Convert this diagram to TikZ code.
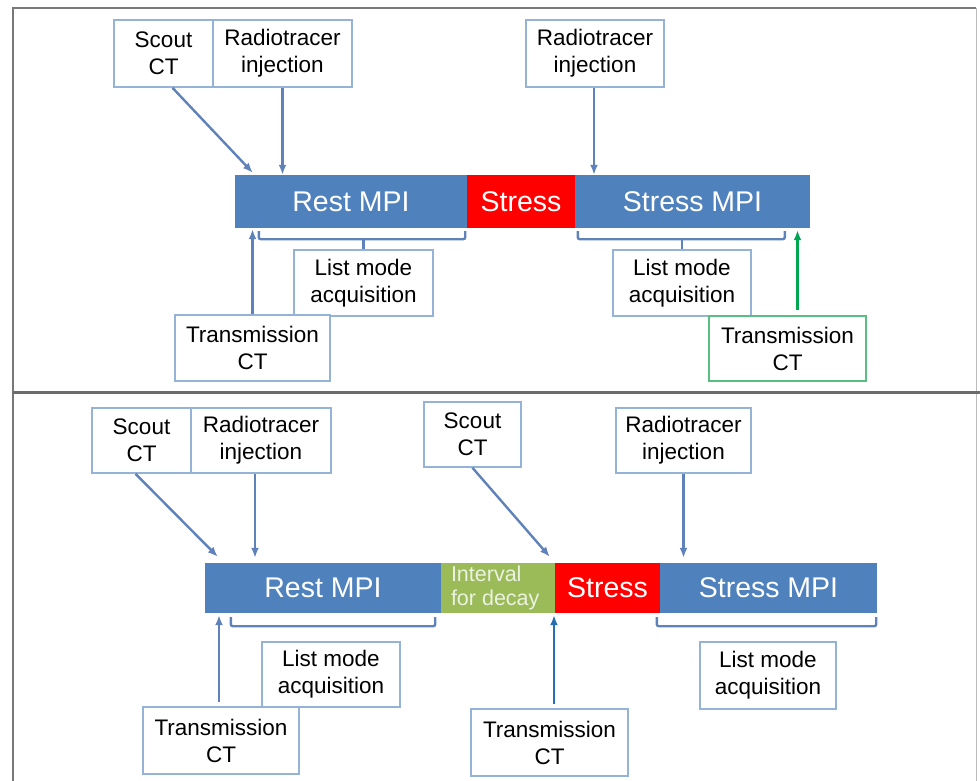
\documentclass[tikz,border=0pt]{standalone}
\usepackage{fontspec}
\setmainfont{Liberation Sans}
\usetikzlibrary{calc,arrows.meta}
\definecolor{barblue}{RGB}{79,129,189}
\definecolor{boxline}{RGB}{149,179,215}
\definecolor{arrblue}{RGB}{96,130,186}
\definecolor{darkarr}{RGB}{38,110,180}
\definecolor{decaygreen}{RGB}{155,187,89}
\definecolor{ctgreen}{RGB}{0,166,80}
\definecolor{ctbox}{RGB}{90,190,130}
\definecolor{framegray}{RGB}{120,120,120}
\tikzset{
  info/.style={draw=boxline, line width=1.6pt, fill=white, align=center, inner sep=0pt,
    font=\fontsize{22.5}{27}\selectfont},
  phase/.style={fill=#1, text=white, inner sep=0pt, font=\fontsize{28.5}{30}\selectfont},
  arr/.style={draw=arrblue, line width=2.4pt, -{Latex[length=10pt,width=8pt]}},
  brace/.style={draw=arrblue, line width=2.4pt, rounded corners=2pt}
}
\begin{document}
\begin{tikzpicture}[x=1pt,y=-1pt]
\useasboundingbox (0,0) rectangle (980,781);

% panel frames
\draw[framegray, line width=2.2pt] (13,782) -- (13,8) -- (976,8);
\draw[framegray!50, line width=1pt] (976,8) -- (976,782);
\draw[framegray!90!black, line width=3pt] (13,392) -- (980,392);

%% top panel
\node[phase=barblue, minimum width=232pt, minimum height=53pt] (restA) at (351,201.5) {Rest MPI};
\node[phase=red, minimum width=108pt, minimum height=53pt] (stressA) at (521,201.5) {Stress};
\node[phase=barblue, minimum width=235pt, minimum height=53pt] (smpiA) at (692.5,201.5) {Stress MPI};

\node[info, minimum width=99pt, minimum height=67pt] (scoutA) at (163.5,53.5) {Scout\\CT};
\node[info, minimum width=139pt, minimum height=67pt] (injA) at (282.5,53.5) {Radiotracer\\injection};
\node[info, minimum width=138pt, minimum height=67pt] (injB) at (595,53.5) {Radiotracer\\injection};

\node[info, minimum width=139pt, minimum height=66pt] (listA) at (363.5,283) {List mode\\acquisition};
\node[info, minimum width=138pt, minimum height=66pt] (listB) at (682,283) {List mode\\acquisition};
\node[info, minimum width=155pt, minimum height=66pt] (transA) at (252.5,348) {Transmission\\CT};
\node[info, draw=ctbox, minimum width=157pt, minimum height=65pt] (transB) at (787.5,348.5) {Transmission\\CT};

\draw[arr] ($(scoutA.south)+(9,0)$) -- ($(restA.north west)+(18,-2)$);
\draw[arr] (injA.south) -- (injA.south |- restA.north);
\draw[arr] ($(injB.south)+(-1,0)$) -- ($(injB.south |- smpiA.north)+(-1,0)$);
\draw[arr] (transA.north) -- ($(transA.north |- restA.south)+(0,1)$);
\draw[arr, draw=ctgreen] ($(transB.north)+(10,-5)$) -- ($(transB.north |- smpiA.south)+(10,2)$);

\draw[brace] ($(restA.south west)+(24,3)$) -- ++(0,8) -- ($(restA.south east)+(-2,11)$) -- ++(0,-8);
\draw[brace] (listA.north |- 0,239) -- (listA.north);
\draw[brace] ($(smpiA.south west)+(3,3)$) -- ++(0,8) -- ($(smpiA.south west)+(210,11)$) -- ++(0,-8);
\draw[brace] (listB.north |- 0,239) -- (listB.north);

%% bottom panel
\node[phase=barblue, minimum width=236pt, minimum height=50pt] (restC) at (323,588) {Rest MPI};
\node[fill=decaygreen, minimum width=114pt, minimum height=50pt] (decayC) at (498,588) {};
\node[anchor=west, align=left, inner sep=0pt, text={rgb,255:red,236;green,242;blue,226},
  font=\fontsize{21.5}{24}\selectfont] at ($(decayC.west)+(10,0)$) {Interval\\for decay};
\node[phase=red, minimum width=105pt, minimum height=50pt] (stressC) at (607.5,588) {Stress};
\node[phase=barblue, minimum width=217pt, minimum height=50pt] (smpiC) at (768.5,588) {Stress MPI};

\node[info, minimum width=99pt, minimum height=65pt] (scoutC) at (141.5,440.5) {Scout\\CT};
\node[info, minimum width=140pt, minimum height=65pt] (injC) at (261,440.5) {Radiotracer\\injection};
\node[info, minimum width=97pt, minimum height=65pt] (scoutD) at (472.5,434.5) {Scout\\CT};
\node[info, minimum width=135pt, minimum height=65pt] (injD) at (683.5,440.5) {Radiotracer\\injection};

\node[info, minimum width=138pt, minimum height=65pt] (listC) at (331,674.5) {List mode\\acquisition};
\node[info, minimum width=136pt, minimum height=67pt] (listD) at (768,675.5) {List mode\\acquisition};
\node[info, minimum width=156pt, minimum height=67pt] (transC) at (221,740.5) {Transmission\\CT};
\node[info, minimum width=157pt, minimum height=67pt] (transD) at (549.5,742.5) {Transmission\\CT};

\draw[arr] ($(scoutC.south)+(-6,0)$) -- ($(restC.north west)+(13,-6)$);
\draw[arr] ($(injC.south)+(-6,0)$) -- ($(injC.south |- restC.north)+(-6,-5)$);
\draw[arr] (scoutD.south) -- ($(stressC.north west)+(-5,-6)$);
\draw[arr] (injD.south) -- ($(injD.south |- smpiC.north)+(0,-5)$);
\draw[arr] ($(transC.north)+(-2,-4)$) -- ($(transC.north |- restC.south)+(-2,2)$);
\draw[arr, draw=darkarr] ($(transD.north)+(4.5,-4)$) -- ($(transD.north |- stressC.south)+(4.5,2)$);

\draw[brace] ($(restC.south west)+(26,4)$) -- ++(0,9) -- ($(restC.south east)+(-6,13)$) -- ++(0,-9);
\draw[brace] ($(listC.north)+(2,0)$ |- 0,626) -- ($(listC.north)+(2,0)$);
\draw[brace] ($(smpiC.south west)+(-3,4)$) -- ++(0,9) -- ($(smpiC.south east)+(-1,13)$) -- ++(0,-9);
\draw[brace] ($(listD.north)+(-2,0)$ |- 0,627) -- ($(listD.north)+(-2,0)$);

\end{tikzpicture}
\end{document}
